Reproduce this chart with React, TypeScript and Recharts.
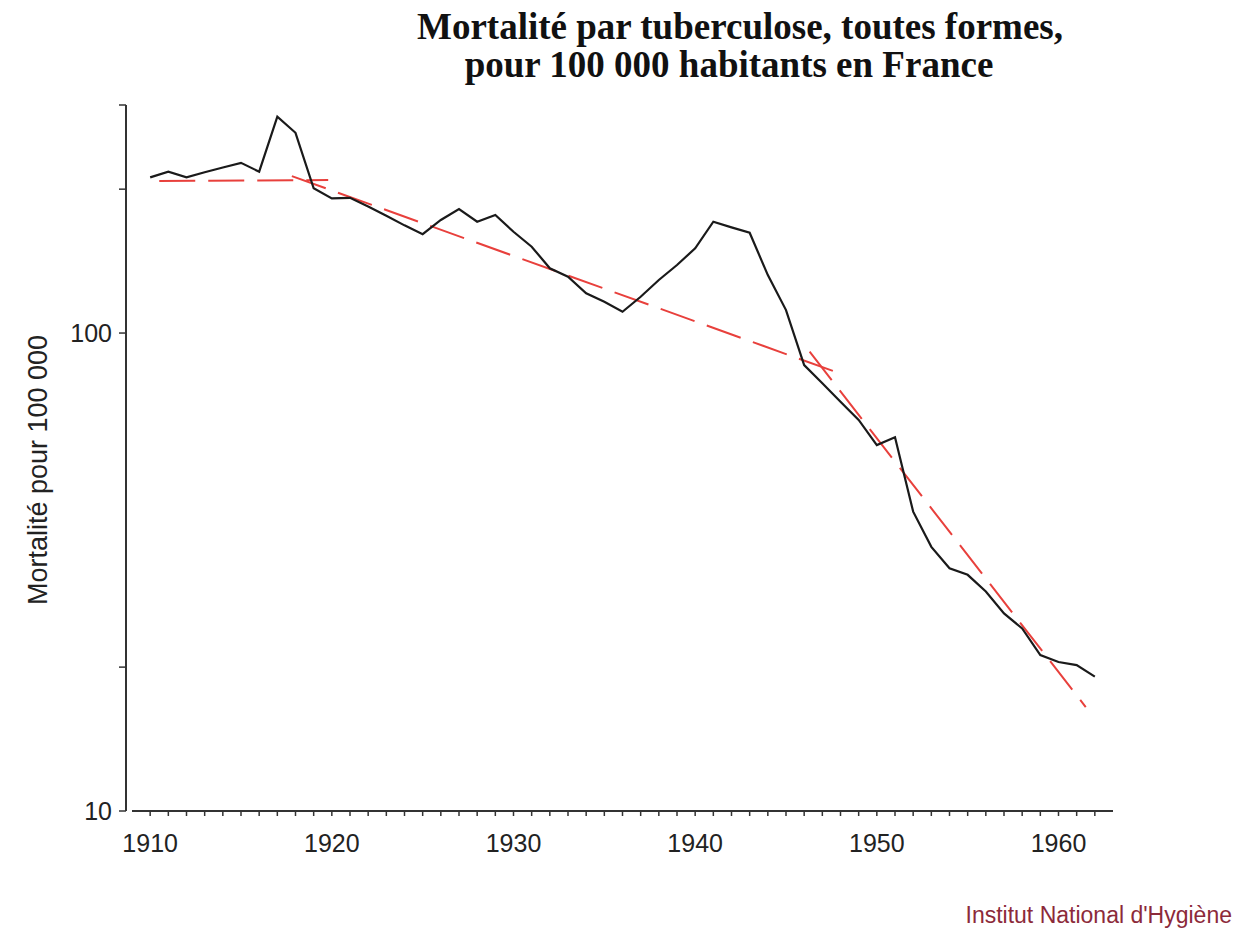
import { LineChart, Line, XAxis, YAxis, ReferenceLine } from 'recharts';

const years = [
  1910, 1911, 1912, 1913, 1914, 1915, 1916, 1917, 1918, 1919,
  1920, 1921, 1922, 1923, 1924, 1925, 1926, 1927, 1928, 1929,
  1930, 1931, 1932, 1933, 1934, 1935, 1936, 1937, 1938, 1939,
  1940, 1941, 1942, 1943, 1944, 1945, 1946, 1947, 1948, 1949,
  1950, 1951, 1952, 1953, 1954, 1955, 1956, 1957, 1958, 1959,
  1960, 1961, 1962,
];

// deaths per 100 000 inhabitants
const mortality = [
  211.7, 217.6, 211.7, 217, 222, 227, 217.6, 283.5, 262.4, 200.8,
  191.3, 191.8, 184, 176, 168, 161, 172.4, 181.7, 171, 176.6,
  162.9, 151.6, 136.6, 131.2, 121.1, 116.3, 110.8, 119.1, 129.1, 138.8,
  150.4, 171, 166.4, 162.1, 132.2, 111.7, 85.7, 78.5, 71.8, 65.8,
  58.3, 60.5, 42.3, 35.7, 32.2, 31.2, 28.8, 25.9, 24.1, 21.2,
  20.5, 20.2, 19.1,
];

// trend segments (dashed red)
const trend1Years = [1910.5, 1919.8];
const trend1Values = [208, 209];
const trend2Years = [1917.8, 1947.7];
const trend2Values = [213, 83];
const trend3Years = [1946.3, 1961.5];
const trend3Values = [91.4, 16.5];

const xTicks = [
  1910, 1911, 1912, 1913, 1914, 1915, 1916, 1917, 1918, 1919,
  1920, 1921, 1922, 1923, 1924, 1925, 1926, 1927, 1928, 1929,
  1930, 1931, 1932, 1933, 1934, 1935, 1936, 1937, 1938, 1939,
  1940, 1941, 1942, 1943, 1944, 1945, 1946, 1947, 1948, 1949,
  1950, 1951, 1952, 1953, 1954, 1955, 1956, 1957, 1958, 1959,
  1960, 1961, 1962,
];
const xLabels = [1910, 1920, 1930, 1940, 1950, 1960];
const yTicks = [10, 20, 100, 200, 300];
const yLabels = [10, 100];

const data = years.map((year, i) => ({ year, mortality: mortality[i] }));
const toSeg = (xs: number[], vs: number[]) => xs.map((year, i) => ({ year, v: vs[i] }));

const RED = '#e8403c';
const AXIS = '#333';
const SANS = '"Liberation Sans", Arial, sans-serif';

export default function App() {
  return (
    <div style={{ position: 'absolute', left: 0, top: 0, width: 1238, height: 932, background: '#fff' }}>
      <LineChart
        width={1238}
        height={932}
        data={data}
        margin={{ top: 105, right: 125, bottom: 81, left: 0 }}
      >
        <XAxis
          type="number"
          dataKey="year"
          domain={[1909, 1963]}
          ticks={xTicks}
          interval={0}
          allowDataOverflow
          padding={{ left: 6, right: 0 }}
          axisLine={false}
          tickLine={{ stroke: AXIS, strokeWidth: 1.5 }}
          tickSize={5}
          tickMargin={18}
          height={40}
          tick={{ fontSize: 25, fill: '#222', fontFamily: SANS }}
          tickFormatter={(v: number) => (xLabels.includes(v) ? String(v) : '')}
        />
        <YAxis
          scale="log"
          domain={[10, 300]}
          ticks={yTicks}
          interval={0}
          allowDataOverflow
          width={126}
          axisLine={{ stroke: AXIS, strokeWidth: 2 }}
          tickLine={{ stroke: AXIS, strokeWidth: 1.5 }}
          tickSize={7}
          tickMargin={7}
          tick={{ fontSize: 25, fill: '#222', fontFamily: SANS }}
          tickFormatter={(v: number) => (yLabels.includes(v) ? String(v) : '')}
        />
        <ReferenceLine
          segment={[{ x: 1909, y: 10 }, { x: 1963, y: 10 }]}
          stroke={AXIS}
          strokeWidth={2}
          ifOverflow="visible"
        />
        <Line
          data={toSeg(trend1Years, trend1Values)}
          dataKey="v"
          stroke={RED}
          strokeWidth={2}
          strokeDasharray="36 13"
          dot={false}
          isAnimationActive={false}
        />
        <Line
          data={toSeg(trend2Years, trend2Values)}
          dataKey="v"
          stroke={RED}
          strokeWidth={2}
          strokeDasharray="36 13"
          dot={false}
          isAnimationActive={false}
        />
        <Line
          data={toSeg(trend3Years, trend3Values)}
          dataKey="v"
          stroke={RED}
          strokeWidth={2}
          strokeDasharray="36 13"
          dot={false}
          isAnimationActive={false}
        />
        <Line
          dataKey="mortality"
          stroke="#1a1a1a"
          strokeWidth={2.2}
          dot={false}
          isAnimationActive={false}
        />
      </LineChart>

      <svg
        width={1238}
        height={932}
        style={{ position: 'absolute', left: 0, top: 0, pointerEvents: 'none' }}
      >
        <g fontFamily='"Liberation Serif", "Times New Roman", serif' fontWeight="bold" fontSize={37} fill="#111">
          <text x={740} y={39} textAnchor="middle">Mortalité par tuberculose, toutes formes,</text>
          <text x={729} y={77} textAnchor="middle">pour 100 000 habitants en France</text>
        </g>
        <text
          x={38}
          y={470}
          transform="rotate(-90 38 470)"
          textAnchor="middle"
          dominantBaseline="central"
          fontFamily={SANS}
          fontSize={27}
          fill="#222"
        >
          Mortalité pour 100 000
        </text>
        <text x={1232} y={923} textAnchor="end" fontFamily={SANS} fontSize={23} fill="#8c2a3a">
          Institut National d'Hygiène
        </text>
      </svg>
    </div>
  );
}
